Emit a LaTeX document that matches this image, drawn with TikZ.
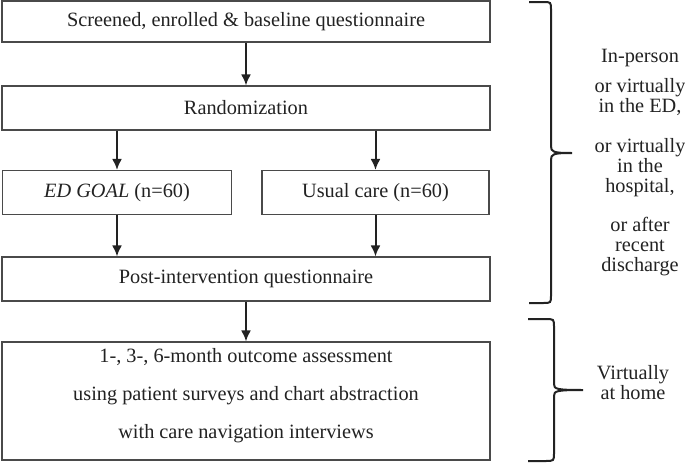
\documentclass[tikz,border=0pt]{standalone}
\usepackage{fontspec}
\setmainfont{Liberation Serif}
\usetikzlibrary{arrows.meta}
\definecolor{inkGray}{HTML}{222222}
\definecolor{lineGray}{HTML}{4A4A4A}
\tikzstyle{boxFlow} = [rectangle, draw=lineGray, line width=1.1pt, fill=white, text=inkGray, minimum width=488pt, minimum height=44pt, align=center, inner sep=0pt, font=\fontsize{20.3}{38}\selectfont]
\tikzstyle{boxHalf} = [boxFlow, minimum width=229pt]
\tikzstyle{arrow} = [draw=inkGray, line width=2pt, -{Latex[length=11pt,width=10pt]}]
\tikzstyle{brace} = [draw=inkGray, line width=2pt]
\tikzstyle{sideNote} = [align=center, text=inkGray, inner sep=0pt, font=\fontsize{20.3}{20}\selectfont]

\begin{document}
\begin{tikzpicture}[x=1pt, y=-1pt]
\useasboundingbox (0,0) rectangle (685,463);

\node (screen) [boxFlow, minimum height=41pt] at (246,21.5) {Screened, enrolled \& baseline questionnaire};

\node (rand) [boxFlow] at (246,108) {Randomization};

\node (edgoal) [boxHalf] at (117,192.5) {\textit{ED GOAL} (n=60)};

\node (usual) [boxHalf, minimum width=227pt] at (375.5,192.5) {Usual care (n=60)};

\node (post) [boxFlow] at (246,279) {Post-intervention questionnaire};

\node (outcome) [boxFlow, minimum height=118pt, text depth=15pt] at (246,401) {1-, 3-, 6-month outcome assessment\\
using patient surveys and chart abstraction\\
with care navigation interviews};

\draw[arrow] (screen) -- (rand);
\draw[arrow] (rand.south -| edgoal.north) -- (edgoal);
\draw[arrow] (rand.south -| usual.north) -- (usual);
\draw[arrow] (edgoal) -- (edgoal.north |- post.north);
\draw[arrow] (usual) -- (usual.north |- post.north);
\draw[arrow] (post) -- (outcome);

% braces on the right
\draw[brace] (529,2) -- (543,2) .. controls (551,2) .. (551,10) -- (551,146)
  .. controls (551,152) and (553,153) .. (572,153)
  .. controls (553,153) and (551,154) .. (551,160) -- (551,295)
  .. controls (551,303) .. (543,303) -- (529,303);
\draw[brace] (528,319) -- (545,319) .. controls (554,319) .. (554,327) -- (554,384)
  .. controls (554,389) and (556,390) .. (583,390)
  .. controls (556,390) and (554,391) .. (554,396) -- (554,453)
  .. controls (554,461) .. (545,461) -- (528,461);

\node (inperson) [sideNote] at (640,58) {In-person};
\node (ined) [sideNote] at (640,97) {or virtually\\in the ED,};
\node (inhosp) [sideNote] at (640,168) {or virtually\\in the\\hospital,};
\node (after) [sideNote] at (640,247) {or after\\recent\\discharge};
\node (athome) [sideNote] at (633,383) {Virtually\\at home};

\end{tikzpicture}
\end{document}
